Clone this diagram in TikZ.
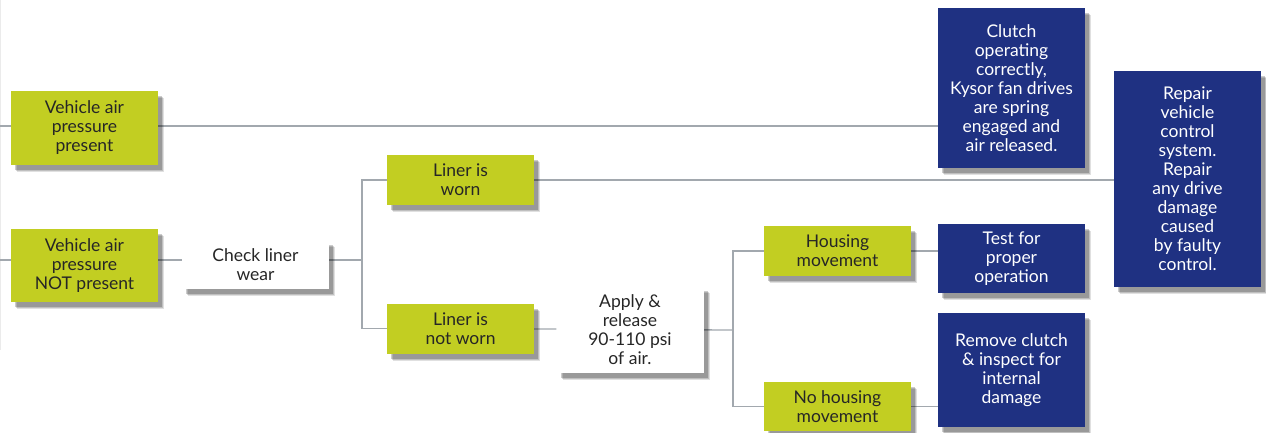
\documentclass[tikz,border=0pt]{standalone}
\usepackage{fontspec}
\setmainfont{Lato}
\usepackage{tikz}
\usepackage{xcolor}
\usetikzlibrary{calc,shadows,backgrounds}
\definecolor{leaf}{RGB}{194,206,34}
\definecolor{ink}{RGB}{31,49,130}
\definecolor{wire}{RGB}{162,168,174}

\begin{document}
\begin{tikzpicture}[x=1pt,y=-1pt,
          line cap=round,line join=round,
          box/.style={inner sep=2pt,align=center,font=\fontsize{17.5}{19}\selectfont,
            drop shadow={shadow xshift=6pt,shadow yshift=-7pt,fill=black,opacity=0.12},
            drop shadow={shadow xshift=5pt,shadow yshift=-6pt,fill=black,opacity=0.15},
            drop shadow={shadow xshift=4pt,shadow yshift=-5pt,fill=black,opacity=0.2}},
          greenbox/.style={box,fill=leaf,text=black!85,minimum width=147,minimum height=50},
          whitebox/.style={box,fill=white,text=black!85,minimum width=147},
          bluebox/.style={box,fill=ink,text=white,minimum width=147},
          link/.style={draw=wire,line width=1.3pt}]
        \useasboundingbox (0,0) rectangle (1266,433);

        \node[greenbox,minimum height=73] (present) at (84.5,128) {Vehicle air\\pressure\\present};
        \node[greenbox,minimum height=73] (absent) at (84.5,265.5) {Vehicle air\\pressure\\NOT present};
        \node[whitebox,minimum height=49] (check) at (255.5,264.5) {Check liner\\wear};
        \node[greenbox] (worn) at (460.5,180) {Liner is\\worn};
        \node[greenbox] (notworn) at (460.5,328.5) {Liner is\\not worn};
        \node[whitebox,minimum height=87] (apply) at (630,329.5) {Apply \&\\release\\90-110 psi\\of air.};
        \node[greenbox] (move) at (837.5,251) {Housing\\movement};
        \node[greenbox,minimum height=49] (nomove) at (837.5,406.5) {No housing\\movement};
        \node[bluebox,minimum height=69] (test) at (1011.5,258.5) {Test for\\proper\\operation};
        \node[bluebox,minimum height=114] (remove) at (1011.5,370) {Remove clutch\\\& inspect for\\internal\\damage};
        \node[bluebox,minimum height=160] (ok) at (1011.5,88) {Clutch\\operating\\correctly,\\Kysor fan drives\\are spring\\engaged and\\air released.};
        \node[bluebox,minimum height=216] (repair) at (1187.5,179) {Repair\\vehicle\\control\\system.\\Repair\\any drive\\damage\\caused\\by faulty\\control.};

        \coordinate (inA) at (0,126);
        \coordinate (inB) at (0,260);
        \coordinate (forkC) at (362,260);
        \coordinate (forkF) at (733,330);

        \begin{scope}[on background layer]
          \draw[draw=black!8,line width=1pt] (0.5,0) -- (0.5,350);
          \draw[link] (inA) -- (inA -| ok.west);
          \draw[link] (inB) -- (forkC);
          \draw[link] (worn) -| (forkC) |- (notworn);
          \draw[link] (worn) -- (worn -| repair.west);
          \draw[link] (notworn) -- (apply);
          \draw[link] (apply) -- (forkF);
          \draw[link] (move) -| (forkF) |- (nomove);
          \draw[link] (move) -- (move -| test.west);
          \draw[link] (nomove) -- (nomove -| remove.west);
        \end{scope}
      \end{tikzpicture}
\end{document}
